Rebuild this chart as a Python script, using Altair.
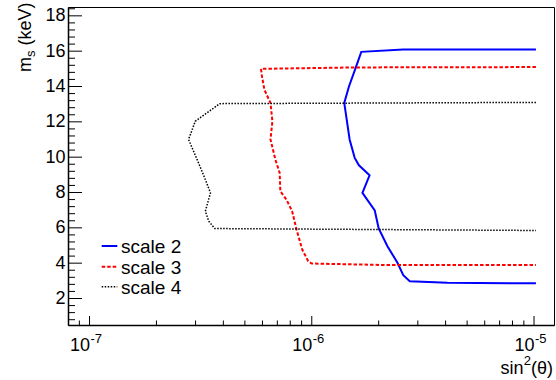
import altair as alt
import pandas as pd

# ---- data ----
series_names = ["scale 2", "scale 3", "scale 4"]
series_colors = ["#0000ff", "#ff0000", "#000000"]

blue_x = [1.02e-5, 4.07e-6, 2.58e-6, 1.67e-6, 1.58e-6, 1.47e-6, 1.40e-6, 1.48e-6,
          1.56e-6, 1.63e-6, 1.82e-6, 1.69e-6, 1.92e-6, 2.00e-6, 2.19e-6, 2.43e-6,
          2.58e-6, 2.76e-6, 4.07e-6, 1.02e-5]
blue_y = [16.1, 16.1, 16.1, 15.96, 15.1, 14.0, 13.07, 11.0,
          9.96, 9.54, 8.97, 7.98, 6.98, 5.96, 4.96, 4.02,
          3.32, 2.98, 2.89, 2.86]

red_x = [1.02e-5, 1.6e-6, 5.91e-7, 5.95e-7, 6.12e-7, 6.52e-7, 6.65e-7, 6.52e-7,
         6.86e-7, 7.17e-7, 7.22e-7, 7.69e-7, 8.16e-7, 8.54e-7, 9.06e-7, 9.64e-7,
         1.0e-6, 2.04e-6, 1.02e-5]
red_y = [15.1, 15.08, 15.0, 14.67, 13.82, 13.07, 12.03, 11.0,
         9.86, 9.11, 8.07, 7.6, 6.94, 5.9, 4.77, 4.11,
         3.98, 3.9, 3.89]

black_x = [1.02e-5, 3.85e-7, 3.62e-7, 2.99e-7, 2.79e-7, 3.05e-7, 3.32e-7, 3.50e-7,
           3.32e-7, 3.44e-7, 3.66e-7, 1.02e-5]
black_y = [13.1, 13.03, 12.78, 12.03, 11.0, 9.86, 8.73, 7.98,
           6.94, 6.37, 5.96, 5.85]

y_major = [2, 4, 6, 8, 10, 12, 14, 16, 18]
y_minor = [0.8, 1.2, 1.6, 2.4, 2.8, 3.2, 3.6, 4.4, 4.8, 5.2, 5.6, 6.4, 6.8, 7.2, 7.6,
           8.4, 8.8, 9.2, 9.6, 10.4, 10.8, 11.2, 11.6, 12.4, 12.8, 13.2, 13.6,
           14.4, 14.8, 15.2, 15.6, 16.4, 16.8, 17.2, 17.6, 18.4]
x_major = [1e-7, 1e-6, 1e-5]
x_exponents = ["-7", "-6", "-5"]
x_minor = [9e-8, 2e-7, 3e-7, 4e-7, 5e-7, 6e-7, 7e-7, 8e-7, 9e-7,
           2e-6, 3e-6, 4e-6, 5e-6, 6e-6, 7e-6, 8e-6, 9e-6]

x_title_parts = ["sin", "2", "(θ)"]
y_title_main = "m"
y_title_sub = "s"
y_title_rest = "(keV)"

# ---- layout ----
W, H = 486, 318
FONT = "Liberation Sans"

xscale = alt.Scale(type="log", domain=[8e-8, 1.23e-5], nice=False)
yscale = alt.Scale(domain=[0.5, 18.5], nice=False, zero=False)

xaxis = alt.Axis(values=x_major, labelExpr="'10'", labelAlign="right",
                 labelBaseline="alphabetic", labelPadding=25,
                 ticks=False, grid=False, title=None, labelFlush=False,
                 labelOverlap=False, labelFont=FONT, labelFontSize=18,
                 labelColor="black", domainColor="black", domainWidth=1.5)
yaxis = alt.Axis(values=y_major, ticks=False, grid=False, title=None,
                 labelFont=FONT, labelFontSize=18, labelColor="black",
                 labelPadding=3, domainColor="black", domainWidth=1.5,
                 labelOverlap=False, labelFlush=False)

X = lambda f: alt.X(f, scale=xscale, axis=xaxis)
Y = lambda f: alt.Y(f, scale=yscale, axis=yaxis)

layers = []

# ticks (inward)
layers.append(alt.Chart(pd.DataFrame({"v": y_major})).mark_rule(color="black", strokeWidth=1)
              .encode(y=Y("v:Q"), x=alt.value(0), x2=alt.value(14)))
layers.append(alt.Chart(pd.DataFrame({"v": y_minor})).mark_rule(color="black", strokeWidth=1)
              .encode(y=Y("v:Q"), x=alt.value(0), x2=alt.value(7)))
layers.append(alt.Chart(pd.DataFrame({"v": x_major})).mark_rule(color="black", strokeWidth=1)
              .encode(x=X("v:Q"), y=alt.value(H), y2=alt.value(H - 9)))
layers.append(alt.Chart(pd.DataFrame({"v": x_minor})).mark_rule(color="black", strokeWidth=1)
              .encode(x=X("v:Q"), y=alt.value(H), y2=alt.value(H - 4.5)))

# exponents of x labels
layers.append(alt.Chart(pd.DataFrame({"v": x_major, "t": x_exponents}))
              .mark_text(align="left", baseline="alphabetic", dx=1, font=FONT,
                         fontSize=13, color="black")
              .encode(x=X("v:Q"), y=alt.value(H + 17.5), text="t:N"))

# series lines
styles = [dict(strokeWidth=2), dict(strokeWidth=2, strokeDash=[3.5, 2]),
          dict(strokeWidth=1.5, strokeDash=[1.5, 1.5])]
for name, xs, ys, col, st in zip(series_names, [blue_x, red_x, black_x],
                                 [blue_y, red_y, black_y], series_colors, styles):
    d = pd.DataFrame({"x": xs, "y": ys, "i": list(range(len(xs)))})
    layers.append(alt.Chart(d).mark_line(color=col, **st)
                  .encode(x=X("x:Q"), y=Y("y:Q"), order="i:Q"))

# legend
leg_rows = [239, 259.7, 279.7]
for name, col, st, ry in zip(series_names, series_colors, styles, leg_rows):
    d = pd.DataFrame({"t": [name]})
    layers.append(alt.Chart(d).mark_rule(color=col, **st)
                  .encode(x=alt.value(33.7), x2=alt.value(49.3), y=alt.value(ry)))
    layers.append(alt.Chart(d).mark_text(align="left", baseline="middle", font=FONT,
                                         fontSize=19, color="black")
                  .encode(x=alt.value(53), y=alt.value(ry + 1), text="t:N"))

# x axis title: sin^2(theta), right-aligned at the frame edge
layers.append(alt.Chart(pd.DataFrame({"t": [x_title_parts[2]]}))
              .mark_text(align="right", baseline="alphabetic", font=FONT, fontSize=18, color="black")
              .encode(x=alt.value(W - 1), y=alt.value(366.5), text="t:N"))
layers.append(alt.Chart(pd.DataFrame({"t": [x_title_parts[1]]}))
              .mark_text(align="right", baseline="alphabetic", font=FONT, fontSize=13, color="black")
              .encode(x=alt.value(W - 23), y=alt.value(358), text="t:N"))
layers.append(alt.Chart(pd.DataFrame({"t": [x_title_parts[0]]}))
              .mark_text(align="right", baseline="alphabetic", font=FONT, fontSize=18, color="black")
              .encode(x=alt.value(W - 30.5), y=alt.value(366.5), text="t:N"))

# y axis title: m_s (keV), rotated
layers.append(alt.Chart(pd.DataFrame({"t": [y_title_main]}))
              .mark_text(angle=270, align="left", baseline="alphabetic", font=FONT, fontSize=18, color="black")
              .encode(x=alt.value(31 - 68), y=alt.value(72 - 7), text="t:N"))
layers.append(alt.Chart(pd.DataFrame({"t": [y_title_sub]}))
              .mark_text(angle=270, align="left", baseline="alphabetic", font=FONT, fontSize=13, color="black")
              .encode(x=alt.value(35 - 68), y=alt.value(57 - 7), text="t:N"))
layers.append(alt.Chart(pd.DataFrame({"t": [y_title_rest]}))
              .mark_text(angle=270, align="left", baseline="alphabetic", font=FONT, fontSize=18, color="black")
              .encode(x=alt.value(31 - 68), y=alt.value(45.5 - 7), text="t:N"))

chart = alt.layer(*layers).properties(
    width=W, height=H,
    autosize=alt.AutoSizeParams(type="none"),
    padding={"left": 68, "top": 7, "right": 2, "bottom": 55},
    background="white",
).configure_view(stroke="black", strokeWidth=1)

chart.save("out.html", embed_options={"renderer": "svg", "actions": False})
